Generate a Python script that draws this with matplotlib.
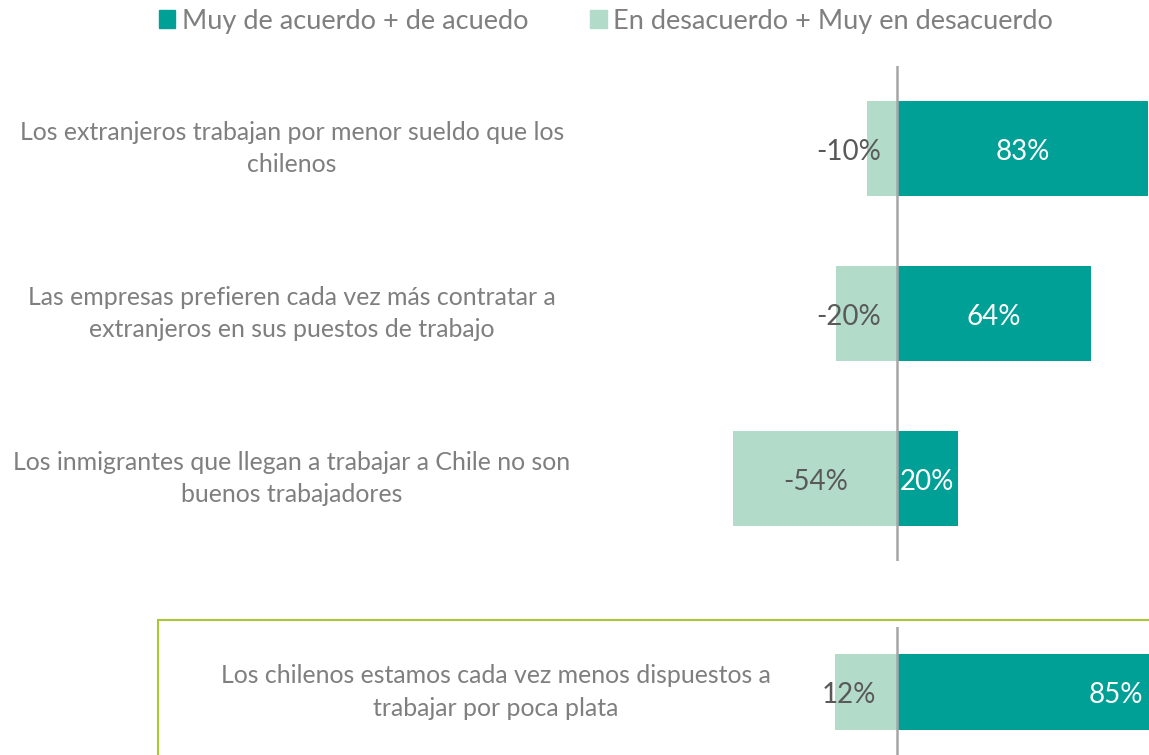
import matplotlib.pyplot as plt
from matplotlib.patches import Rectangle
from matplotlib.transforms import blended_transform_factory

plt.rcParams['font.family'] = ['Lato', 'DejaVu Sans']

# data
top_items = [
    "Los extranjeros trabajan por menor sueldo que los\nchilenos",
    "Las empresas prefieren cada vez más contratar a\nextranjeros en sus puestos de trabajo",
    "Los inmigrantes que llegan a trabajar a Chile no son\nbuenos trabajadores",
]
top_agree = [83, 64, 20]
top_disagree = [-10, -20, -54]

bottom_items = ["Los chilenos estamos cada vez menos dispuestos a\ntrabajar por poca plata"]
bottom_agree = [85]
bottom_disagree = [-12]

legend_labels = ["Muy de acuerdo + de acuedo", "En desacuerdo + Muy en desacuerdo"]

DARK = '#00a096'
LIGHT = '#b2dbca'
TXT = '#7f7f7f'
VAL = '#595959'
ZERO = '#a6a6a6'
BOX = '#a9c934'

W, H = 1149, 755
ZERO_PX = 897
fig = plt.figure(figsize=(W / 100, H / 100), dpi=100)


def px_axes(top, bottom):
    return fig.add_axes([0, 1 - bottom / H, 1, (bottom - top) / H])


def draw_panel(ax, items, agree, disagree, scale, label_x, signed):
    n = len(items)
    ax.set_xlim(-ZERO_PX / scale, (W - ZERO_PX) / scale)
    ax.set_ylim(n - 0.5, -0.5)
    ax.axis('off')
    ys = list(range(n))
    ax.barh(ys, disagree, height=0.58, color=LIGHT, zorder=2)
    ax.barh(ys, agree, height=0.58, color=DARK, zorder=2)
    ax.axvline(0, color=ZERO, lw=1.8, zorder=3)
    tr = blended_transform_factory(fig.transFigure, ax.transData)
    for y, name, a, d in zip(ys, items, agree, disagree):
        ax.text(label_x / W, y, name, transform=tr, ha='center', va='center',
                multialignment='center', fontsize=17.9, color=TXT, linespacing=1.5)
        ax.text(a / 2, y + 0.02, f"{a}%", ha='center', va='center', fontsize=20,
                color='white', zorder=4)
        lab = f"{d}%" if signed else f"{abs(d)}%"
        if abs(d) * scale > 90:
            ax.text(d / 2, y + 0.02, lab, ha='center', va='center', fontsize=20,
                    color=VAL, zorder=4)
        else:
            ax.text(-48 / scale, y + 0.02, lab, ha='center', va='center', fontsize=20,
                    color=VAL, zorder=4)


ax_top = px_axes(66, 561)
draw_panel(ax_top, top_items, top_agree, top_disagree, 3.03, 292, True)

ax_bot = px_axes(627, 757)
draw_panel(ax_bot, bottom_items, bottom_agree, bottom_disagree, 5.15, 496, False)

# highlight frame around the last statement
fig.patches.append(Rectangle((158 / W, -0.05), 1.1, 1.05 - 620 / H, transform=fig.transFigure,
                             fill=False, edgecolor=BOX, lw=1.5))

# legend
handles = [Rectangle((0, 0), 1, 1, color=DARK), Rectangle((0, 0), 1, 1, color=LIGHT)]
leg = fig.legend(handles, legend_labels, loc='center', bbox_to_anchor=(606 / W, 1 - 21 / H),
                 ncol=2, frameon=False, fontsize=19.5, handlelength=0.6, handleheight=0.6,
                 handletextpad=0.25, columnspacing=2.3, borderaxespad=0)
for t in leg.get_texts():
    t.set_color(TXT)

fig.savefig('out.png', dpi=100)
